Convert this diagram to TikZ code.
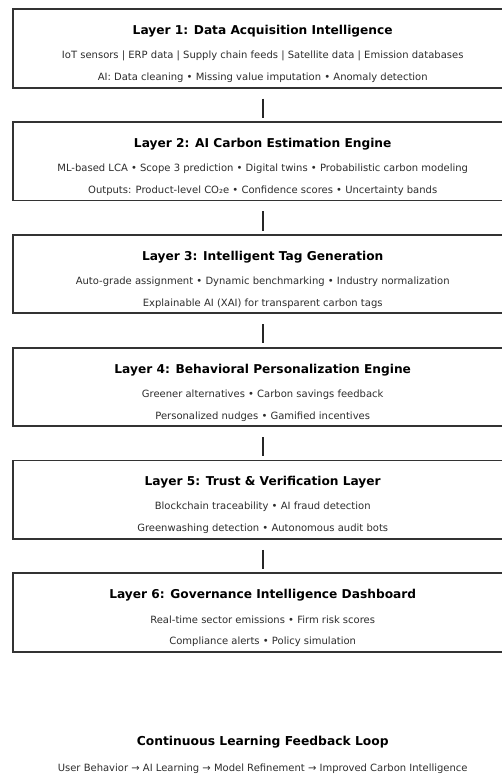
\documentclass[tikz,border=0pt]{standalone}
\usepackage{fontspec}
\setmainfont{DejaVu Sans}
\definecolor{framegray}{RGB}{51, 51, 51}
\definecolor{textgray}{RGB}{45, 45, 45}
\usetikzlibrary{positioning, calc}

\tikzset{
  layerbox/.style={draw=framegray, line width=1.8pt, fill=white, minimum width=500pt, minimum height=78.5pt, inner sep=0pt},
  layertitle/.style={font=\bfseries\fontsize{12.2}{14}\selectfont, text=black, inner sep=0pt},
  layerline/.style={font=\fontsize{10}{12}\selectfont, text=textgray, inner sep=0pt},
  link/.style={draw=black!85, line width=1.8pt, shorten <=10pt, shorten >=3.4pt}
}

\begin{document}
\begin{tikzpicture}[x=1pt, y=1pt]
  \useasboundingbox (0,0) rectangle (501,-776);

  % Layer 1
  \node[layerbox] (l1) at (262.7, -48.5) {};
  \node[layertitle] at ([yshift=-23pt]l1.north) {Layer 1: Data Acquisition Intelligence};
  \node[layerline] at ([yshift=-47.5pt]l1.north) {IoT sensors | ERP data | Supply chain feeds | Satellite data | Emission databases};
  \node[layerline] at ([yshift=-69.5pt]l1.north) {AI: Data cleaning • Missing value imputation • Anomaly detection};

  % Layer 2
  \node[layerbox] (l2) at (262.7, -161.3) {};
  \node[layertitle] at ([yshift=-23pt]l2.north) {Layer 2: AI Carbon Estimation Engine};
  \node[layerline] at ([yshift=-47.5pt]l2.north) {ML-based LCA • Scope 3 prediction • Digital twins • Probabilistic carbon modeling};
  \node[layerline] at ([yshift=-69.5pt]l2.north) {Outputs: Product-level CO₂e • Confidence scores • Uncertainty bands};

  % Layer 3
  \node[layerbox] (l3) at (262.7, -274.1) {};
  \node[layertitle] at ([yshift=-23pt]l3.north) {Layer 3: Intelligent Tag Generation};
  \node[layerline] at ([yshift=-47.5pt]l3.north) {Auto-grade assignment • Dynamic benchmarking • Industry normalization};
  \node[layerline] at ([yshift=-69.5pt]l3.north) {Explainable AI (XAI) for transparent carbon tags};

  % Layer 4
  \node[layerbox] (l4) at (262.7, -386.9) {};
  \node[layertitle] at ([yshift=-23pt]l4.north) {Layer 4: Behavioral Personalization Engine};
  \node[layerline] at ([yshift=-47.5pt]l4.north) {Greener alternatives • Carbon savings feedback};
  \node[layerline] at ([yshift=-69.5pt]l4.north) {Personalized nudges • Gamified incentives};

  % Layer 5
  \node[layerbox] (l5) at (262.7, -499.7) {};
  \node[layertitle] at ([yshift=-23pt]l5.north) {Layer 5: Trust \& Verification Layer};
  \node[layerline] at ([yshift=-47.5pt]l5.north) {Blockchain traceability • AI fraud detection};
  \node[layerline] at ([yshift=-69.5pt]l5.north) {Greenwashing detection • Autonomous audit bots};

  % Layer 6
  \node[layerbox] (l6) at (262.7, -612.5) {};
  \node[layertitle] at ([yshift=-23pt]l6.north) {Layer 6: Governance Intelligence Dashboard};
  \node[layerline] at ([yshift=-47.5pt]l6.north) {Real-time sector emissions • Firm risk scores};
  \node[layerline] at ([yshift=-69.5pt]l6.north) {Compliance alerts • Policy simulation};

  % Links
  \draw[link] (l1) -- (l2);
  \draw[link] (l2) -- (l3);
  \draw[link] (l3) -- (l4);
  \draw[link] (l4) -- (l5);
  \draw[link] (l5) -- (l6);

  % Feedback loop
  \node[layertitle, font=\bfseries\fontsize{12.3}{14}\selectfont] (loop) at (262.7, -742.5) {Continuous Learning Feedback Loop};
  \node[layerline] (loopline) at (262.7, -769) {User Behavior → AI Learning → Model Refinement → Improved Carbon Intelligence};
\end{tikzpicture}
\end{document}
